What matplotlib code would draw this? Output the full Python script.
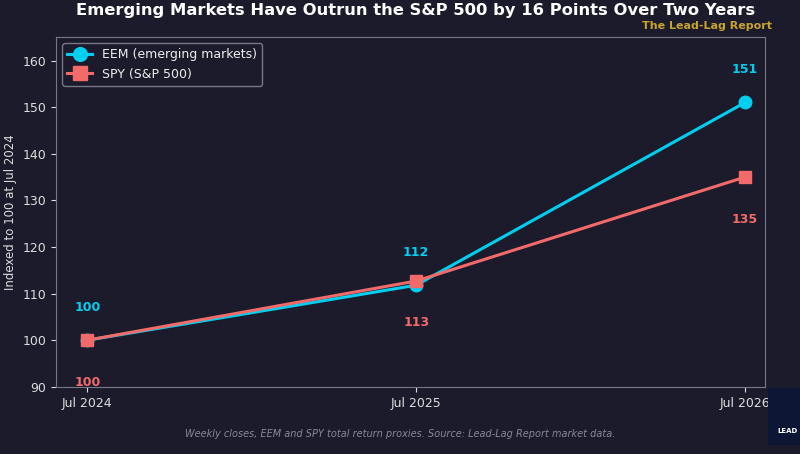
import matplotlib.pyplot as plt
from matplotlib.patches import Rectangle

dates = ["Jul 2024", "Jul 2025", "Jul 2026"]
eem = [100, 111.8, 151]
spy = [100, 112.7, 135]

bg = "#1b1b2c"
eem_color = "#00cfef"
spy_color = "#f26a6a"

fig = plt.figure(figsize=(8, 4.54), dpi=100, facecolor=bg)
ax = fig.add_axes([0.07, 0.148, 0.886, 0.77], facecolor=bg)

x = list(range(len(dates)))
ax.plot(x, eem, color=eem_color, lw=2.2, marker="o", ms=9, label="EEM (emerging markets)", zorder=3)
ax.plot(x, spy, color=spy_color, lw=2.2, marker="s", ms=9, label="SPY (S&P 500)", zorder=4)

for xi, v in zip(x, eem):
    ax.text(xi, v + 7, f"{v:.0f}", color=eem_color, ha="center", va="center",
            fontsize=9, fontweight="bold")
for xi, v in zip(x, spy):
    ax.text(xi, v - 9, f"{v:.0f}", color=spy_color, ha="center", va="center",
            fontsize=9, fontweight="bold")

ax.set_xlim(-0.095, 2.06)
ax.set_ylim(90, 165)
ax.set_xticks(x)
ax.set_xticklabels(dates)
ax.set_yticks(range(90, 161, 10))
ax.tick_params(colors="#dddddd", labelsize=9)
for s in ax.spines.values():
    s.set_color("#777788")
ax.set_ylabel("Indexed to 100 at Jul 2024", color="#dddddd", fontsize=8.5)

leg = ax.legend(loc="upper left", fontsize=9, facecolor=bg, edgecolor="#777788",
                labelcolor="#eeeeee", borderpad=0.4, handlelength=2, markerscale=1.1)
leg.get_frame().set_alpha(1)

fig.text(0.52, 0.977, "Emerging Markets Have Outrun the S&P 500 by 16 Points Over Two Years",
         color="white", fontsize=11.8, fontweight="bold", ha="center", va="center")
fig.text(0.965, 0.943, "The Lead-Lag Report", color="#c9a42c", fontsize=8,
         fontweight="bold", ha="right", va="center")
fig.text(0.5, 0.043, "Weekly closes, EEM and SPY total return proxies. Source: Lead-Lag Report market data.",
         color="#888899", fontsize=7, style="italic", ha="center", va="center")

# logo placeholder
fig.patches.append(Rectangle((0.96, 0.02), 0.04, 0.125, transform=fig.transFigure,
                             facecolor="#0d1635", edgecolor="none"))
fig.text(0.972, 0.05, "LEAD", color="white", fontsize=5, fontweight="bold", ha="left", va="center")

fig.savefig("out.png", dpi=100, facecolor=bg)
